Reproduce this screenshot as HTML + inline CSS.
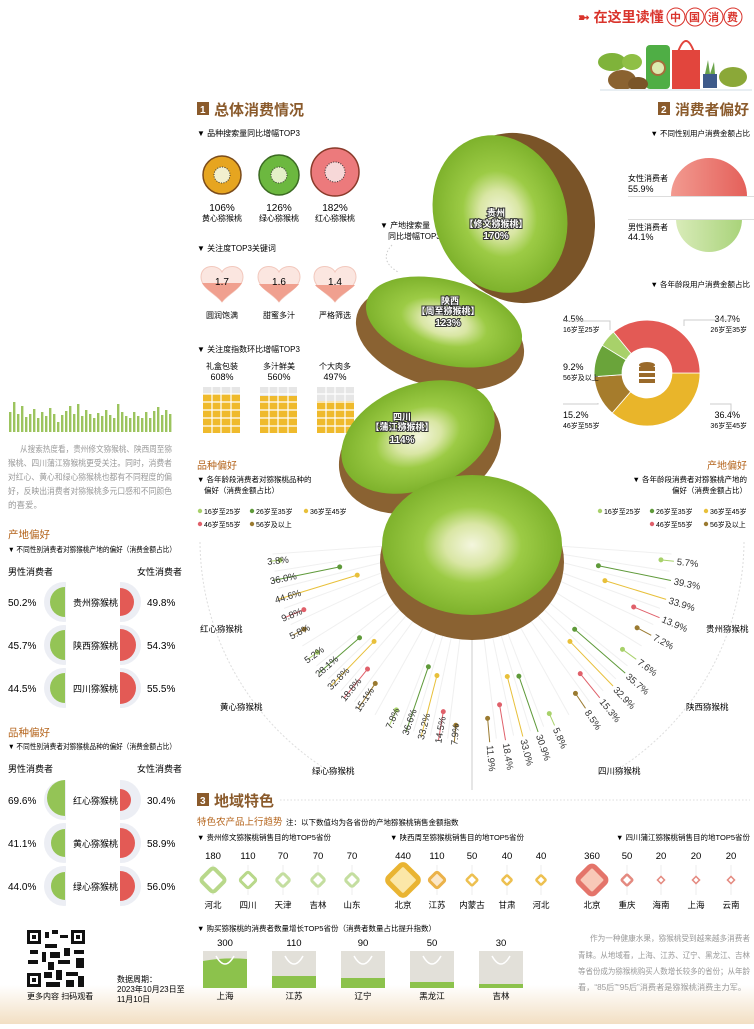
<!DOCTYPE html>
<html><head><meta charset="utf-8">
<style>
body{margin:0;width:754px;height:1024px;overflow:hidden;background:#fff;font-family:"Liberation Sans","Noto Sans CJK SC",sans-serif;color:#333}
svg text{font-family:"Liberation Sans","Noto Sans CJK SC",sans-serif}
</style></head><body>
<svg width="754" height="1024" viewBox="0 0 754 1024" xmlns="http://www.w3.org/2000/svg">
<defs>
<linearGradient id="bot" x1="0" y1="0" x2="0" y2="1"><stop offset="0" stop-color="#fff"/><stop offset="1" stop-color="#f2dfc3"/></linearGradient>
<radialGradient id="kg" cx="0.5" cy="0.5" r="0.5"><stop offset="0" stop-color="#f4f6de"/><stop offset="0.3" stop-color="#d9e6a4"/><stop offset="0.55" stop-color="#9ccb45"/><stop offset="1" stop-color="#7eb22c"/></radialGradient>
<linearGradient id="redg" x1="0" x2="1"><stop offset="0" stop-color="#f29a90"/><stop offset="1" stop-color="#e4605a"/></linearGradient>
<linearGradient id="grg" x1="0" x2="1"><stop offset="0" stop-color="#d8ebb8"/><stop offset="1" stop-color="#a9d37a"/></linearGradient>
</defs>
<rect x="0" y="985" width="754" height="39" fill="url(#bot)"/>

<!-- header -->
<text x="578" y="22" font-size="14" fill="#d9332b" font-weight="bold">➼ 在这里读懂</text>
<g font-size="11" fill="#d9332b" font-weight="bold">
<circle cx="676" cy="17" r="9" fill="#fff" stroke="#d9332b"/><text x="670" y="21">中</text>
<circle cx="695" cy="17" r="9" fill="#fff" stroke="#d9332b"/><text x="689" y="21">国</text>
<circle cx="714" cy="17" r="9" fill="#fff" stroke="#d9332b"/><text x="708" y="21">消</text>
<circle cx="733" cy="17" r="9" fill="#fff" stroke="#d9332b"/><text x="727" y="21">费</text></g>
<ellipse cx="612" cy="62" rx="14" ry="9" fill="#7fb33a"/><ellipse cx="632" cy="62" rx="10" ry="8" fill="#8fbf45"/>
<rect x="646" y="45" width="24" height="44" rx="4" fill="#4fae45"/><circle cx="658" cy="68" r="7" fill="#dcebb0" stroke="#a56e3b" stroke-width="2"/>
<rect x="672" y="50" width="28" height="40" fill="#e2453d"/><path d="M678 52 Q686 30 694 52" fill="none" stroke="#e2453d" stroke-width="2"/>
<rect x="703" y="74" width="14" height="14" fill="#3d5a8a"/><path d="M705 74 l3 -14 l2 14 l4 -12 l1 12" fill="#6aa34a"/>
<ellipse cx="622" cy="80" rx="14" ry="10" fill="#8a6230"/><ellipse cx="638" cy="84" rx="10" ry="7" fill="#7a5528"/><ellipse cx="733" cy="77" rx="14" ry="10" fill="#8ba838"/>
<rect x="600" y="89" width="152" height="2" fill="#e8eef2"/>

<!-- left sparkline -->
<g fill="#9cc45e">
<rect x="9" y="412" width="2.4" height="20"/><rect x="13" y="402" width="2.4" height="30"/><rect x="17" y="414" width="2.4" height="18"/><rect x="21" y="406" width="2.4" height="26"/><rect x="25" y="417" width="2.4" height="15"/><rect x="29" y="414" width="2.4" height="18"/><rect x="33" y="409" width="2.4" height="23"/><rect x="37" y="418" width="2.4" height="14"/><rect x="41" y="412" width="2.4" height="20"/><rect x="45" y="416" width="2.4" height="16"/><rect x="49" y="408" width="2.4" height="24"/><rect x="53" y="414" width="2.4" height="18"/><rect x="57" y="422" width="2.4" height="10"/><rect x="61" y="415" width="2.4" height="17"/><rect x="65" y="411" width="2.4" height="21"/><rect x="69" y="406" width="2.4" height="26"/><rect x="73" y="414" width="2.4" height="18"/><rect x="77" y="404" width="2.4" height="28"/><rect x="81" y="416" width="2.4" height="16"/><rect x="85" y="410" width="2.4" height="22"/><rect x="89" y="414" width="2.4" height="18"/><rect x="93" y="418" width="2.4" height="14"/><rect x="97" y="413" width="2.4" height="19"/><rect x="101" y="416" width="2.4" height="16"/><rect x="105" y="410" width="2.4" height="22"/><rect x="109" y="415" width="2.4" height="17"/><rect x="113" y="418" width="2.4" height="14"/><rect x="117" y="404" width="2.4" height="28"/><rect x="121" y="412" width="2.4" height="20"/><rect x="125" y="416" width="2.4" height="16"/><rect x="129" y="418" width="2.4" height="14"/><rect x="133" y="412" width="2.4" height="20"/><rect x="137" y="416" width="2.4" height="16"/><rect x="141" y="418" width="2.4" height="14"/><rect x="145" y="412" width="2.4" height="20"/><rect x="149" y="418" width="2.4" height="14"/><rect x="153" y="411" width="2.4" height="21"/><rect x="157" y="407" width="2.4" height="25"/><rect x="161" y="415" width="2.4" height="17"/><rect x="165" y="410" width="2.4" height="22"/><rect x="169" y="414" width="2.4" height="18"/></g>
<g font-size="8.5" fill="#999">
<text x="20" y="452" textLength="152" lengthAdjust="spacingAndGlyphs">从搜索热度看，贵州修文猕猴桃、陕西周至猕</text>
<text x="8" y="466" textLength="164" lengthAdjust="spacingAndGlyphs">猴桃、四川蒲江猕猴桃更受关注。同时，消费者</text>
<text x="8" y="480" textLength="164" lengthAdjust="spacingAndGlyphs">对红心、黄心和绿心猕猴桃也都有不同程度的偏</text>
<text x="8" y="494" textLength="164" lengthAdjust="spacingAndGlyphs">好，反映出消费者对猕猴桃多元口感和不同颜色</text>
<text x="8" y="508">的喜爱。</text></g>

<!-- left tables -->
<g font-size="10">
<text x="8" y="538" fill="#b5651d" font-size="10.5">产地偏好</text>
<text x="8" y="552" font-size="7.5" textLength="168" lengthAdjust="spacingAndGlyphs">▼ 不同性别消费者对猕猴桃产地的偏好（消费金额占比）</text>
<text x="8" y="575" font-size="9">男性消费者</text><text x="137" y="575" font-size="9">女性消费者</text>
<g fill="#eceef4"><circle cx="64" cy="602" r="20"/><circle cx="64" cy="645" r="20"/><circle cx="64" cy="688" r="20"/><circle cx="121" cy="602" r="20"/><circle cx="121" cy="645" r="20"/><circle cx="121" cy="688" r="20"/></g>
<rect x="66" y="565" width="54" height="145" fill="#fff"/>
<g fill="#94c456"><path d="M65 587 A15 15 0 0 0 65 617Z"/><path d="M65 630 A15 15 0 0 0 65 660Z"/><path d="M65 673 A15 15 0 0 0 65 703Z"/></g>
<g fill="#e35a55"><path d="M120 588 A14 14 0 0 1 120 616Z"/><path d="M120 629 A16 16 0 0 1 120 661Z"/><path d="M120 672 A16 16 0 0 1 120 704Z"/></g>
<text x="8" y="606">50.2%</text><text x="73" y="606" font-size="9">贵州猕猴桃</text><text x="147" y="606">49.8%</text>
<text x="8" y="649">45.7%</text><text x="73" y="649" font-size="9">陕西猕猴桃</text><text x="147" y="649">54.3%</text>
<text x="8" y="692">44.5%</text><text x="73" y="692" font-size="9">四川猕猴桃</text><text x="147" y="692">55.5%</text>

<text x="8" y="736" fill="#b5651d" font-size="10.5">品种偏好</text>
<text x="8" y="749" font-size="7.5" textLength="168" lengthAdjust="spacingAndGlyphs">▼ 不同性别消费者对猕猴桃品种的偏好（消费金额占比）</text>
<text x="8" y="772" font-size="9">男性消费者</text><text x="137" y="772" font-size="9">女性消费者</text>
<g fill="#eceef4"><circle cx="64" cy="800" r="20"/><circle cx="64" cy="843" r="20"/><circle cx="64" cy="886" r="20"/><circle cx="121" cy="800" r="20"/><circle cx="121" cy="843" r="20"/><circle cx="121" cy="886" r="20"/></g>
<rect x="66" y="765" width="54" height="145" fill="#fff"/>
<g fill="#94c456"><path d="M65 780 A18 18 0 0 0 65 816Z"/><path d="M65 829 A14 14 0 0 0 65 857Z"/><path d="M65 872 A14 14 0 0 0 65 900Z"/></g>
<g fill="#e35a55"><path d="M120 789 A11 11 0 0 1 120 811Z"/><path d="M120 828 A15 15 0 0 1 120 858Z"/><path d="M120 871 A15 15 0 0 1 120 901Z"/></g>
<text x="8" y="804">69.6%</text><text x="73" y="804" font-size="9">红心猕猴桃</text><text x="147" y="804">30.4%</text>
<text x="8" y="847">41.1%</text><text x="73" y="847" font-size="9">黄心猕猴桃</text><text x="147" y="847">58.9%</text>
<text x="8" y="890">44.0%</text><text x="73" y="890" font-size="9">绿心猕猴桃</text><text x="147" y="890">56.0%</text>
</g>
<!-- QR -->
<rect x="27" y="930" width="58" height="57" fill="#fff"/>
<g fill="#111"><rect x="27" y="930" width="14" height="14"/><rect x="71" y="930" width="14" height="14"/><rect x="27" y="973" width="14" height="14"/>
<rect x="45" y="932" width="4" height="6"/><rect x="52" y="930" width="6" height="4"/><rect x="60" y="935" width="8" height="3"/><rect x="45" y="944" width="12" height="4"/><rect x="30" y="950" width="8" height="4"/><rect x="42" y="952" width="4" height="10"/><rect x="50" y="952" width="10" height="6"/><rect x="64" y="948" width="6" height="8"/><rect x="74" y="950" width="10" height="4"/><rect x="28" y="960" width="10" height="4"/><rect x="48" y="962" width="6" height="8"/><rect x="58" y="960" width="12" height="4"/><rect x="76" y="958" width="8" height="10"/><rect x="44" y="972" width="8" height="6"/><rect x="56" y="970" width="6" height="10"/><rect x="66" y="972" width="12" height="4"/><rect x="46" y="982" width="14" height="5"/><rect x="66" y="980" width="8" height="7"/><rect x="78" y="976" width="6" height="11"/></g>
<g fill="#fff"><rect x="30" y="933" width="8" height="8"/><rect x="74" y="933" width="8" height="8"/><rect x="30" y="976" width="8" height="8"/></g>
<g fill="#111"><rect x="32" y="935" width="4" height="4"/><rect x="76" y="935" width="4" height="4"/><rect x="32" y="978" width="4" height="4"/></g>
<text x="27" y="999" font-size="8">更多内容 扫码观看</text>
<text x="117" y="982" font-size="8">数据周期：</text><text x="117" y="992" font-size="8">2023年10月23日至</text><text x="117" y="1002" font-size="8">11月10日</text>

<!-- section 1 -->
<rect x="197" y="102" width="12" height="13" fill="#8a5a2b"/><text x="200" y="113" font-size="10" fill="#fff" font-weight="bold">1</text>
<text x="214" y="115" font-size="15" font-weight="bold" fill="#8a5a2b">总体消费情况</text>
<text x="197" y="136" font-size="8">▼ 品种搜索量同比增幅TOP3</text>
<circle cx="222" cy="175" r="19" fill="#e6a520" stroke="#7a4b1b" stroke-width="1.5"/><circle cx="222" cy="175" r="8" fill="#f2f0cf" stroke="#333" stroke-dasharray="1 1.5"/>
<circle cx="279" cy="175" r="20" fill="#6cb83f" stroke="#3b6a22" stroke-width="1.5"/><circle cx="279" cy="175" r="8" fill="#e4f0c8" stroke="#333" stroke-dasharray="1 1.5"/>
<circle cx="335" cy="172" r="24" fill="#ec7a7c" stroke="#8a3a2a" stroke-width="1.5"/><circle cx="335" cy="172" r="10" fill="#f7d8d8" stroke="#333" stroke-dasharray="1 1.5"/>
<g font-size="10" text-anchor="middle"><text x="222" y="211">106%</text><text x="279" y="211">126%</text><text x="335" y="211">182%</text></g>
<g font-size="8" text-anchor="middle"><text x="222" y="221">黄心猕猴桃</text><text x="279" y="221">绿心猕猴桃</text><text x="335" y="221">红心猕猴桃</text></g>
<text x="197" y="251" font-size="8">▼ 关注度TOP3关键词</text>
<g>
<path d="M0 -8 C-4 -16 -21 -16 -21 -3 C-21 8 -6 14 0 22 C6 14 21 8 21 -3 C21 -16 4 -16 0 -8Z" fill="#fbe6e0" stroke="#f2c8bd" transform="translate(222,280)"/>
<path d="M-20 3 L20 3 C16 10 6 14 0 22 C-6 14 -16 10 -20 3Z" fill="#f0a08f" transform="translate(222,280)"/>
<path d="M0 -8 C-4 -16 -21 -16 -21 -3 C-21 8 -6 14 0 22 C6 14 21 8 21 -3 C21 -16 4 -16 0 -8Z" fill="#fbe6e0" stroke="#f2c8bd" transform="translate(279,280)"/>
<path d="M-20 4 L20 4 C16 10 6 14 0 22 C-6 14 -16 10 -20 4Z" fill="#f0a08f" transform="translate(279,280)"/>
<path d="M0 -8 C-4 -16 -21 -16 -21 -3 C-21 8 -6 14 0 22 C6 14 21 8 21 -3 C21 -16 4 -16 0 -8Z" fill="#fbe6e0" stroke="#f2c8bd" transform="translate(335,280)"/>
<path d="M-20 5 L20 5 C16 10 6 14 0 22 C-6 14 -16 10 -20 5Z" fill="#f0a08f" transform="translate(335,280)"/>
</g>
<g font-size="10" text-anchor="middle"><text x="222" y="285">1.7</text><text x="279" y="285">1.6</text><text x="335" y="285">1.4</text></g>
<g font-size="8" text-anchor="middle"><text x="222" y="318">圆润饱满</text><text x="279" y="318">甜蜜多汁</text><text x="335" y="318">严格筛选</text></g>
<text x="197" y="352" font-size="8">▼ 关注度指数环比增幅TOP3</text>
<g font-size="8" text-anchor="middle"><text x="222" y="369">礼盒包装</text><text x="279" y="369">多汁鲜美</text><text x="335" y="369">个大肉多</text></g>
<g font-size="9" text-anchor="middle"><text x="222" y="380">608%</text><text x="279" y="380">560%</text><text x="335" y="380">497%</text></g>
<g>
<rect x="203" y="387" width="37" height="46" fill="#e6e6e6"/><rect x="203" y="394" width="37" height="39" fill="#efba2c"/>
<rect x="260" y="387" width="37" height="46" fill="#e6e6e6"/><rect x="260" y="396" width="37" height="37" fill="#efba2c"/>
<rect x="317" y="387" width="37" height="46" fill="#e6e6e6"/><rect x="317" y="401" width="37" height="32" fill="#efba2c"/>
<g stroke="#fff" stroke-width="1.2"><path d="M212 387v46M221 387v46M231 387v46M269 387v46M278 387v46M288 387v46M326 387v46M335 387v46M345 387v46M203 394h151M203 402h151M203 410h151M203 418h151M203 426h151"/></g>
</g>

<!-- section 2 -->
<rect x="658" y="102" width="12" height="13" fill="#8a5a2b"/><text x="661" y="113" font-size="10" fill="#fff" font-weight="bold">2</text>
<text x="675" y="115" font-size="14.5" font-weight="bold" fill="#8a5a2b" textLength="74" lengthAdjust="spacingAndGlyphs">消费者偏好</text>
<text x="750" y="136" font-size="7.5" text-anchor="end">▼ 不同性别用户消费金额占比</text>
<path d="M671 196 A38 38 0 0 1 747 196Z" fill="url(#redg)"/>
<path d="M676 219 A33 33 0 0 0 742 219Z" fill="url(#grg)"/>
<path d="M628 196.5H754M628 219.5H754" stroke="#ddd"/>
<text x="628" y="181" font-size="8">女性消费者</text><text x="628" y="192" font-size="9">55.9%</text>
<text x="628" y="230" font-size="8">男性消费者</text><text x="628" y="240" font-size="9">44.1%</text>
<text x="750" y="287" font-size="7.5" text-anchor="end">▼ 各年龄段用户消费金额占比</text>
<g stroke="#fff" stroke-width="0.8">
<path d="M700 373 A53 53 0 0 1 612.2 413 L630.6 391.8 A25 25 0 0 0 672 373Z" fill="#e9b52a"/>
<path d="M612.2 413 A53 53 0 0 1 594.2 376.7 L622 374.7 A25 25 0 0 0 630.6 391.8Z" fill="#a67c2c"/>
<path d="M594.2 376.7 A53 53 0 0 1 602.3 345.3 L626 359.9 A25 25 0 0 0 622 374.7Z" fill="#6aa43a"/>
<path d="M602.3 345.3 A53 53 0 0 1 613.5 332 L631.2 353.6 A25 25 0 0 0 626 359.9Z" fill="#a8d16a"/>
<path d="M613.5 332 A53 53 0 0 1 700 373 L672 373 A25 25 0 0 0 631.2 353.6Z" fill="#e35a55"/>
</g>
<g fill="#9a6a2a"><ellipse cx="647" cy="365" rx="8" ry="3"/><rect x="639" y="367" width="16" height="4"/><rect x="639" y="373" width="16" height="4"/><rect x="639" y="379" width="16" height="4"/></g>
<g font-size="9"><text x="563" y="322">4.5%</text><text x="563" y="370">9.2%</text><text x="563" y="418">15.2%</text>
<text x="740" y="322" text-anchor="end">34.7%</text><text x="740" y="418" text-anchor="end">36.4%</text></g>
<g font-size="7"><text x="563" y="332">16岁至25岁</text><text x="563" y="380">56岁及以上</text><text x="563" y="428">46岁至55岁</text>
<text x="747" y="332" text-anchor="end">26岁至35岁</text><text x="747" y="428" text-anchor="end">36岁至45岁</text></g>
<path d="M610 330V321H563M684 326V320H740M563 404H598V403M710 404H731V413" fill="none" stroke="#ccc"/>

<!-- legends -->
<text x="197" y="469" font-size="10" fill="#b5651d">品种偏好</text>
<text x="197" y="482" font-size="7.5">▼ 各年龄段消费者对猕猴桃品种的</text><text x="204" y="493" font-size="7.5">偏好（消费金额占比）</text>
<text x="747" y="469" font-size="10" fill="#b5651d" text-anchor="end">产地偏好</text>
<text x="747" y="482" font-size="7.5" text-anchor="end">▼ 各年龄段消费者对猕猴桃产地的</text><text x="747" y="493" font-size="7.5" text-anchor="end">偏好（消费金额占比）</text>
<g font-size="7">
<circle cx="200" cy="511" r="2.2" fill="#a8d16a"/><text x="204" y="514">16岁至25岁</text>
<circle cx="252" cy="511" r="2.2" fill="#5f9a3a"/><text x="256" y="514">26岁至35岁</text>
<circle cx="306" cy="511" r="2.2" fill="#e8c03a"/><text x="310" y="514">36岁至45岁</text>
<circle cx="200" cy="524" r="2.2" fill="#e0606a"/><text x="204" y="527">46岁至55岁</text>
<circle cx="252" cy="524" r="2.2" fill="#9a7a30"/><text x="256" y="527">56岁及以上</text>
<circle cx="600" cy="511" r="2.2" fill="#a8d16a"/><text x="604" y="514">16岁至25岁</text>
<circle cx="652" cy="511" r="2.2" fill="#5f9a3a"/><text x="656" y="514">26岁至35岁</text>
<circle cx="706" cy="511" r="2.2" fill="#e8c03a"/><text x="710" y="514">36岁至45岁</text>
<circle cx="652" cy="524" r="2.2" fill="#e0606a"/><text x="656" y="527">46岁至55岁</text>
<circle cx="706" cy="524" r="2.2" fill="#9a7a30"/><text x="710" y="527">56岁及以上</text>
</g>

<!-- radial -->
<g transform="translate(472,540)">
<path d="M-272 2 A272 272 0 0 0 -140 233" fill="none" stroke="#ddd" stroke-dasharray="2 2"/>
<path d="M272 2 A272 272 0 0 1 140 233" fill="none" stroke="#ddd" stroke-dasharray="2 2"/>
<g stroke="#f0f0f0">
<line x1="60" x2="200" transform="rotate(176)"/><line x1="60" x2="200" transform="rotate(171)"/><line x1="60" x2="200" transform="rotate(166)"/><line x1="60" x2="200" transform="rotate(160)"/><line x1="60" x2="200" transform="rotate(155)"/><line x1="60" x2="200" transform="rotate(148)"/><line x1="60" x2="200" transform="rotate(141)"/><line x1="60" x2="200" transform="rotate(136)"/><line x1="60" x2="200" transform="rotate(131)"/><line x1="60" x2="200" transform="rotate(126)"/><line x1="60" x2="200" transform="rotate(119)"/><line x1="60" x2="200" transform="rotate(111)"/><line x1="60" x2="200" transform="rotate(107)"/><line x1="60" x2="200" transform="rotate(102)"/><line x1="60" x2="200" transform="rotate(97)"/>
<line x1="60" x2="200" transform="rotate(4)"/><line x1="60" x2="200" transform="rotate(9)"/><line x1="60" x2="200" transform="rotate(14)"/><line x1="60" x2="200" transform="rotate(20)"/><line x1="60" x2="200" transform="rotate(25)"/><line x1="60" x2="200" transform="rotate(32)"/><line x1="60" x2="200" transform="rotate(39)"/><line x1="60" x2="200" transform="rotate(44)"/><line x1="60" x2="200" transform="rotate(49)"/><line x1="60" x2="200" transform="rotate(54)"/><line x1="60" x2="200" transform="rotate(61)"/><line x1="60" x2="200" transform="rotate(69)"/><line x1="60" x2="200" transform="rotate(73)"/><line x1="60" x2="200" transform="rotate(78)"/><line x1="60" x2="200" transform="rotate(83)"/>
</g>
<line x1="0" y1="90" x2="0" y2="250" stroke="#ccc"/>
<g font-size="9.5" fill="#333">
<g transform="rotate(174)"><line x1="193" x2="203" stroke="#a8d16a"/><circle cx="193" r="2.5" fill="#a8d16a"/><text transform="translate(206,0) rotate(180)" dy="0.35em">3.8%</text></g>
<g transform="rotate(168.5)"><line x1="135" x2="203" stroke="#5f9a3a"/><circle cx="135" r="2.5" fill="#5f9a3a"/><text transform="translate(206,0) rotate(180)" dy="0.35em">36.0%</text></g>
<g transform="rotate(163)"><line x1="120" x2="203" stroke="#e8c03a"/><circle cx="120" r="2.5" fill="#e8c03a"/><text transform="translate(206,0) rotate(180)" dy="0.35em">44.6%</text></g>
<g transform="rotate(157.5)"><line x1="182" x2="203" stroke="#e0606a"/><circle cx="182" r="2.5" fill="#e0606a"/><text transform="translate(206,0) rotate(180)" dy="0.35em">9.8%</text></g>
<g transform="rotate(152)"><line x1="190" x2="203" stroke="#9a7a30"/><circle cx="190" r="2.5" fill="#9a7a30"/><text transform="translate(206,0) rotate(180)" dy="0.35em">5.8%</text></g>
<g transform="rotate(144)"><line x1="191" x2="203" stroke="#a8d16a"/><circle cx="191" r="2.5" fill="#a8d16a"/><text transform="translate(206,0) rotate(180)" dy="0.35em">5.2%</text></g>
<g transform="rotate(139)"><line x1="149" x2="203" stroke="#5f9a3a"/><circle cx="149" r="2.5" fill="#5f9a3a"/><text transform="translate(206,0) rotate(180)" dy="0.35em">28.1%</text></g>
<g transform="rotate(134)"><line x1="141" x2="203" stroke="#e8c03a"/><circle cx="141" r="2.5" fill="#e8c03a"/><text transform="translate(206,0) rotate(180)" dy="0.35em">32.8%</text></g>
<g transform="rotate(129)"><line x1="166" x2="203" stroke="#e0606a"/><circle cx="166" r="2.5" fill="#e0606a"/><text transform="translate(206,0) rotate(180)" dy="0.35em">18.8%</text></g>
<g transform="rotate(124)"><line x1="173" x2="203" stroke="#9a7a30"/><circle cx="173" r="2.5" fill="#9a7a30"/><text transform="translate(206,0) rotate(180)" dy="0.35em">15.1%</text></g>
<g transform="rotate(114)"><line x1="186" x2="203" stroke="#a8d16a"/><circle cx="186" r="2.5" fill="#a8d16a"/><text transform="translate(206,0) rotate(180)" dy="0.35em">7.8%</text></g>
<g transform="rotate(109)"><line x1="134" x2="203" stroke="#5f9a3a"/><circle cx="134" r="2.5" fill="#5f9a3a"/><text transform="translate(206,0) rotate(180)" dy="0.35em">36.6%</text></g>
<g transform="rotate(104.5)"><line x1="140" x2="203" stroke="#e8c03a"/><circle cx="140" r="2.5" fill="#e8c03a"/><text transform="translate(206,0) rotate(180)" dy="0.35em">33.2%</text></g>
<g transform="rotate(99.5)"><line x1="174" x2="203" stroke="#e0606a"/><circle cx="174" r="2.5" fill="#e0606a"/><text transform="translate(206,0) rotate(180)" dy="0.35em">14.5%</text></g>
<g transform="rotate(95)"><line x1="186" x2="203" stroke="#9a7a30"/><circle cx="186" r="2.5" fill="#9a7a30"/><text transform="translate(206,0) rotate(180)" dy="0.35em">7.9%</text></g>
<g transform="rotate(6)"><line x1="190" x2="203" stroke="#a8d16a"/><circle cx="190" r="2.5" fill="#a8d16a"/><text x="206" dy="0.35em">5.7%</text></g>
<g transform="rotate(11.5)"><line x1="129" x2="203" stroke="#5f9a3a"/><circle cx="129" r="2.5" fill="#5f9a3a"/><text x="206" dy="0.35em">39.3%</text></g>
<g transform="rotate(17)"><line x1="139" x2="203" stroke="#e8c03a"/><circle cx="139" r="2.5" fill="#e8c03a"/><text x="206" dy="0.35em">33.9%</text></g>
<g transform="rotate(22.5)"><line x1="175" x2="203" stroke="#e0606a"/><circle cx="175" r="2.5" fill="#e0606a"/><text x="206" dy="0.35em">13.9%</text></g>
<g transform="rotate(28)"><line x1="187" x2="203" stroke="#9a7a30"/><circle cx="187" r="2.5" fill="#9a7a30"/><text x="206" dy="0.35em">7.2%</text></g>
<g transform="rotate(36)"><line x1="186" x2="203" stroke="#a8d16a"/><circle cx="186" r="2.5" fill="#a8d16a"/><text x="206" dy="0.35em">7.6%</text></g>
<g transform="rotate(41)"><line x1="136" x2="203" stroke="#5f9a3a"/><circle cx="136" r="2.5" fill="#5f9a3a"/><text x="206" dy="0.35em">35.7%</text></g>
<g transform="rotate(46)"><line x1="141" x2="203" stroke="#e8c03a"/><circle cx="141" r="2.5" fill="#e8c03a"/><text x="206" dy="0.35em">32.9%</text></g>
<g transform="rotate(51)"><line x1="172" x2="203" stroke="#e0606a"/><circle cx="172" r="2.5" fill="#e0606a"/><text x="206" dy="0.35em">15.3%</text></g>
<g transform="rotate(56)"><line x1="185" x2="203" stroke="#9a7a30"/><circle cx="185" r="2.5" fill="#9a7a30"/><text x="206" dy="0.35em">8.5%</text></g>
<g transform="rotate(66)"><line x1="190" x2="203" stroke="#a8d16a"/><circle cx="190" r="2.5" fill="#a8d16a"/><text x="206" dy="0.35em">5.8%</text></g>
<g transform="rotate(71)"><line x1="144" x2="203" stroke="#5f9a3a"/><circle cx="144" r="2.5" fill="#5f9a3a"/><text x="206" dy="0.35em">30.9%</text></g>
<g transform="rotate(75.5)"><line x1="141" x2="203" stroke="#e8c03a"/><circle cx="141" r="2.5" fill="#e8c03a"/><text x="206" dy="0.35em">33.0%</text></g>
<g transform="rotate(80.5)"><line x1="167" x2="203" stroke="#e0606a"/><circle cx="167" r="2.5" fill="#e0606a"/><text x="206" dy="0.35em">18.4%</text></g>
<g transform="rotate(85)"><line x1="179" x2="203" stroke="#9a7a30"/><circle cx="179" r="2.5" fill="#9a7a30"/><text x="206" dy="0.35em">11.9%</text></g>
</g>
</g>
<g font-size="8.5"><text x="200" y="632">红心猕猴桃</text><text x="220" y="710">黄心猕猴桃</text><text x="312" y="774">绿心猕猴桃</text>
<text x="706" y="632">贵州猕猴桃</text><text x="686" y="710">陕西猕猴桃</text><text x="598" y="774">四川猕猴桃</text></g>

<!-- kiwis -->
<text x="380" y="228" font-size="8">▼ 产地搜索量</text><text x="388" y="239" font-size="8">同比增幅TOP3</text>
<path d="M392 245 Q378 260 398 272" fill="none" stroke="#ccc" stroke-dasharray="1.5 2"/>
<ellipse cx="518" cy="218" rx="76" ry="86" fill="#7a5428" transform="rotate(-18 518 218)"/>
<ellipse cx="500" cy="214" rx="66" ry="80" fill="url(#kg)" transform="rotate(-18 500 214)"/>
<ellipse cx="440" cy="337" rx="86" ry="50" fill="#8a6232" transform="rotate(15 440 337)"/>
<ellipse cx="444" cy="322" rx="80" ry="42" fill="url(#kg)" transform="rotate(15 444 322)"/>
<ellipse cx="420" cy="450" rx="84" ry="60" fill="#8a6232" transform="rotate(-22 420 450)"/>
<ellipse cx="418" cy="437" rx="80" ry="52" fill="url(#kg)" transform="rotate(-22 418 437)"/>
<ellipse cx="472" cy="562" rx="92" ry="78" fill="#8a6232"/>
<ellipse cx="472" cy="545" rx="90" ry="70" fill="url(#kg)"/>
<g font-size="9" fill="#fff" stroke="#333" stroke-width="2" paint-order="stroke" text-anchor="middle" font-weight="bold">
<text x="496" y="216">贵州</text><text x="496" y="227">【修文猕猴桃】</text><text x="496" y="239" font-size="10">170%</text>
<text x="450" y="304">陕西</text><text x="448" y="314">【周至猕猴桃】</text><text x="448" y="326" font-size="10">123%</text>
<text x="402" y="420">四川</text><text x="402" y="430">【蒲江猕猴桃】</text><text x="402" y="443" font-size="10">114%</text></g>

<!-- section 3 -->
<rect x="197" y="793" width="12" height="13" fill="#8a5a2b"/><text x="200" y="804" font-size="10" fill="#fff" font-weight="bold">3</text>
<text x="214" y="806" font-size="15" font-weight="bold" fill="#8a5a2b">地域特色</text>
<line x1="280" y1="800" x2="750" y2="800" stroke="#ddd" stroke-dasharray="1.5 2"/>
<text x="197" y="825" font-size="9.5" fill="#b5651d">特色农产品上行趋势</text><text x="286" y="825" font-size="7.5">注：以下数值均为各省份的产地猕猴桃销售金额指数</text>
<g font-size="7.5"><text x="197" y="840">▼ 贵州修文猕猴桃销售目的地TOP5省份</text><text x="390" y="840">▼ 陕西周至猕猴桃销售目的地TOP5省份</text><text x="750" y="840" text-anchor="end">▼ 四川蒲江猕猴桃销售目的地TOP5省份</text></g>
<g font-size="9.5" text-anchor="middle">
<text x="213" y="859">180</text><text x="248" y="859">110</text><text x="283" y="859">70</text><text x="318" y="859">70</text><text x="352" y="859">70</text>
<text x="403" y="859">440</text><text x="437" y="859">110</text><text x="472" y="859">50</text><text x="507" y="859">40</text><text x="541" y="859">40</text>
<text x="592" y="859">360</text><text x="627" y="859">50</text><text x="661" y="859">20</text><text x="696" y="859">20</text><text x="731" y="859">20</text></g>
<g stroke="#eee"><path d="M213 865V895M248 865V895M283 865V895M318 865V895M352 865V895M403 865V895M437 865V895M472 865V895M507 865V895M541 865V895M592 865V895M627 865V895M661 865V895M696 865V895M731 865V895"/></g>
<g>
<rect x="-9" y="-9" width="18" height="18" rx="3" fill="#fff" stroke="#b8d88a" stroke-width="4" transform="translate(213,880) rotate(45)"/>
<rect x="-6" y="-6" width="12" height="12" rx="2" fill="#fff" stroke="#b8d88a" stroke-width="3" transform="translate(248,880) rotate(45)"/>
<rect x="-5" y="-5" width="10" height="10" rx="2" fill="#fff" stroke="#c4dea0" stroke-width="3" transform="translate(283,880) rotate(45)"/>
<rect x="-5" y="-5" width="10" height="10" rx="2" fill="#fff" stroke="#c4dea0" stroke-width="3" transform="translate(318,880) rotate(45)"/>
<rect x="-5" y="-5" width="10" height="10" rx="2" fill="#fff" stroke="#c4dea0" stroke-width="3" transform="translate(352,880) rotate(45)"/>
<rect x="-12" y="-12" width="24" height="24" rx="4" fill="#fbe7a8" stroke="#e9b432" stroke-width="5" transform="translate(403,880) rotate(45)"/>
<rect x="-6" y="-6" width="12" height="12" rx="2" fill="#fbe7c8" stroke="#ebb24a" stroke-width="3" transform="translate(437,880) rotate(45)"/>
<rect x="-4" y="-4" width="8" height="8" rx="1" fill="#fff" stroke="#edc050" stroke-width="2.5" transform="translate(472,880) rotate(45)"/>
<rect x="-3.5" y="-3.5" width="7" height="7" rx="1" fill="#fff" stroke="#edc050" stroke-width="2.5" transform="translate(507,880) rotate(45)"/>
<rect x="-3.5" y="-3.5" width="7" height="7" rx="1" fill="#fff" stroke="#edc050" stroke-width="2.5" transform="translate(541,880) rotate(45)"/>
<rect x="-11" y="-11" width="22" height="22" rx="4" fill="#f8c8b8" stroke="#e4746a" stroke-width="5" transform="translate(592,880) rotate(45)"/>
<rect x="-4" y="-4" width="8" height="8" rx="1" fill="#fff" stroke="#e48a80" stroke-width="2.5" transform="translate(627,880) rotate(45)"/>
<rect x="-2.5" y="-2.5" width="5" height="5" fill="#fff" stroke="#e48a80" stroke-width="1.5" transform="translate(661,880) rotate(45)"/>
<rect x="-2.5" y="-2.5" width="5" height="5" fill="#fff" stroke="#e48a80" stroke-width="1.5" transform="translate(696,880) rotate(45)"/>
<rect x="-2.5" y="-2.5" width="5" height="5" fill="#fff" stroke="#e48a80" stroke-width="1.5" transform="translate(731,880) rotate(45)"/>
</g>
<g font-size="8.5" text-anchor="middle">
<text x="213" y="908">河北</text><text x="248" y="908">四川</text><text x="283" y="908">天津</text><text x="318" y="908">吉林</text><text x="352" y="908">山东</text>
<text x="403" y="908">北京</text><text x="437" y="908">江苏</text><text x="472" y="908">内蒙古</text><text x="507" y="908">甘肃</text><text x="541" y="908">河北</text>
<text x="592" y="908">北京</text><text x="627" y="908">重庆</text><text x="661" y="908">海南</text><text x="696" y="908">上海</text><text x="731" y="908">云南</text></g>
<text x="197" y="931" font-size="7.5">▼ 购买猕猴桃的消费者数量增长TOP5省份（消费者数量占比提升指数）</text>
<g font-size="9.5" text-anchor="middle"><text x="225" y="946">300</text><text x="294" y="946">110</text><text x="363" y="946">90</text><text x="432" y="946">50</text><text x="501" y="946">30</text></g>
<g fill="#e2e0d9"><rect x="203" y="951" width="44" height="37"/><rect x="272" y="951" width="44" height="37"/><rect x="341" y="951" width="44" height="37"/><rect x="410" y="951" width="44" height="37"/><rect x="479" y="951" width="44" height="37"/></g>
<g fill="#8cc24c"><path d="M203 961 Q225 957 247 959 V988 H203Z"/><rect x="272" y="976" width="44" height="12"/><rect x="341" y="978" width="44" height="10"/><rect x="410" y="982" width="44" height="6"/><rect x="479" y="984" width="44" height="4"/></g>
<g fill="none" stroke="#fff" stroke-width="1.5"><path d="M216 956 Q225 972 234 956M285 956 Q294 972 303 956M354 956 Q363 972 372 956M423 956 Q432 972 441 956M492 956 Q501 972 510 956"/></g>
<g font-size="8.5" text-anchor="middle"><text x="225" y="999">上海</text><text x="294" y="999">江苏</text><text x="363" y="999">辽宁</text><text x="432" y="999">黑龙江</text><text x="501" y="999">吉林</text></g>
<g font-size="8" fill="#999"><text x="590" y="941" textLength="160" lengthAdjust="spacingAndGlyphs">作为一种健康水果，猕猴桃受到越来越多消费者</text>
<text x="578" y="958" textLength="172" lengthAdjust="spacingAndGlyphs">青睐。从地域看，上海、江苏、辽宁、黑龙江、吉林</text>
<text x="578" y="974" textLength="172" lengthAdjust="spacingAndGlyphs">等省份成为猕猴桃购买人数增长较多的省份；从年龄</text>
<text x="578" y="990" textLength="168" lengthAdjust="spacingAndGlyphs">看，“85后”“95后”消费者是猕猴桃消费主力军。</text></g>
</svg>
</body></html>
